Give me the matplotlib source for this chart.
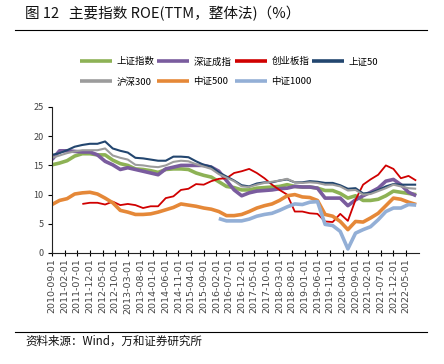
import numpy as np
import pandas as pd
import matplotlib
matplotlib.use("Agg")
import matplotlib.pyplot as plt

plt.rcParams['font.family'] = ['Noto Sans CJK SC', 'DejaVu Sans']

# quarterly points, 2010-09 .. 2022-09
dates = pd.date_range('2010-09-01', periods=49, freq='3MS')
tick_dates = pd.date_range('2010-09-01', '2022-05-01', freq='5MS')

sh_index = [15.1, 15.4, 15.8, 16.6, 17.0, 17.0, 16.8, 16.8, 15.9, 15.3, 15.0, 14.4, 14.3, 14.1, 13.8, 14.3,
            14.4, 14.4, 14.3, 13.7, 13.3, 13.0, 12.2, 11.4, 11.2, 10.8, 10.8, 11.1, 11.2, 11.3, 11.4, 11.7,
            11.4, 11.3, 11.3, 11.1, 10.7, 10.7, 10.2, 9.4, 9.8, 9.0, 9.0, 9.2, 9.8, 10.6, 10.4, 10.2, 10.0]
sz_index = [16.0, 17.5, 17.5, 17.4, 17.3, 17.3, 16.8, 15.7, 15.1, 14.3, 14.6, 14.3, 14.0, 13.7, 13.4, 14.4,
            14.7, 15.0, 15.0, 15.0, 15.0, 14.7, 14.0, 12.4, 10.8, 9.8, 10.3, 10.6, 10.7, 10.8, 11.0, 11.1,
            11.4, 11.3, 11.3, 11.1, 9.4, 9.4, 9.4, 8.1, 9.1, 9.8, 10.4, 11.1, 12.3, 12.6, 11.7, 10.4, 9.8]
cyb = [None, None, None, None, 8.4, 8.6, 8.6, 8.3, 8.8, 8.2, 8.4, 8.2, 7.7, 8.0, 8.0, 9.4,
       9.7, 10.8, 11.0, 11.8, 11.7, 12.3, 12.7, 12.8, 13.7, 14.0, 14.4, 13.7, 12.8, 11.7, 10.8, 10.0,
       7.1, 7.1, 6.8, 6.7, 5.4, 5.3, 6.7, 5.5, 9.1, 11.7, 12.6, 13.4, 15.0, 14.4, 12.8, 13.2, 12.4]
sz50 = [16.8, 17.1, 17.6, 18.2, 18.5, 18.7, 18.7, 19.1, 17.9, 17.5, 17.2, 16.3, 16.2, 16.0, 15.8, 15.8,
        16.5, 16.5, 16.4, 15.7, 15.1, 14.8, 13.8, 13.1, 12.4, 11.6, 11.4, 11.9, 12.1, 12.1, 12.4, 12.6,
        12.1, 12.1, 12.3, 12.2, 12.0, 12.0, 11.6, 11.0, 11.1, 10.2, 10.3, 10.8, 11.4, 11.8, 11.7, 11.7, 11.7]
hs300 = [16.3, 16.7, 17.1, 17.4, 17.6, 17.6, 17.6, 17.9, 16.7, 16.3, 16.0, 15.1, 15.0, 14.8, 14.7, 15.0,
         15.6, 15.8, 15.7, 15.2, 14.8, 14.4, 13.5, 12.9, 12.3, 11.4, 11.3, 11.7, 12.0, 12.2, 12.4, 12.7,
         12.1, 12.0, 12.1, 12.0, 11.7, 11.7, 11.4, 10.7, 10.8, 10.0, 10.1, 10.6, 11.1, 11.7, 11.4, 11.1, 11.0]
zz500 = [8.3, 9.0, 9.3, 10.1, 10.3, 10.4, 10.1, 9.4, 8.6, 7.3, 7.0, 6.6, 6.6, 6.7, 7.0, 7.4,
         7.8, 8.4, 8.2, 8.0, 7.7, 7.5, 7.1, 6.4, 6.4, 6.6, 7.1, 7.7, 8.1, 8.4, 9.0, 9.8,
         10.0, 9.6, 9.5, 9.0, 6.6, 6.3, 5.4, 4.0, 5.4, 5.3, 6.0, 6.8, 8.1, 9.4, 9.2, 8.7, 8.3]
zz1000 = [None] * 22 + [5.9, 5.5, 5.5, 5.5, 5.8, 6.3, 6.6, 6.8, 7.3, 7.9,
                        8.4, 8.3, 8.7, 8.8, 4.9, 4.7, 3.7, 0.7, 3.4, 4.0, 4.5, 5.7, 7.1, 7.7, 7.7, 8.3, 8.2]

series = [
    ("上证指数", sh_index, "#8DB255", 2.6),
    ("深证成指", sz_index, "#7A5C9E", 2.6),
    ("创业板指", cyb, "#D00000", 1.3),
    ("上证50", sz50, "#23466F", 1.5),
    ("沪深300", hs300, "#9C9C9C", 1.5),
    ("中证500", zz500, "#E58838", 2.6),
    ("中证1000", zz1000, "#93AFD6", 2.6),
]

fig = plt.figure(figsize=(4.44, 3.64), dpi=100)
ax = fig.add_axes([52 / 444, 1 - 253 / 364, 367 / 444, 146 / 364])

handles = {}
for name, vals, color, lw in series:
    y = np.array([np.nan if v is None else v for v in vals], dtype=float)
    h, = ax.plot(dates, y, color=color, lw=lw, label=name, solid_capstyle='butt')
    handles[name] = h

ax.set_ylim(0, 25)
ax.set_yticks(range(0, 26, 5))
ax.set_xlim(pd.Timestamp('2010-09-01'), pd.Timestamp('2022-10-05'))
ax.set_xticks(tick_dates)
ax.set_xticklabels([d.strftime('%Y-%m-%d') for d in tick_dates], rotation=90,
                   fontsize=6.8, family='DejaVu Sans', color='#444444')
ax.tick_params(axis='x', direction='inout', length=4, width=0.8, pad=2)
ax.tick_params(axis='y', direction='out', length=3, width=0.8, labelsize=6.5,
               labelcolor='#444444', pad=3)
for s in ['top', 'right']:
    ax.spines[s].set_visible(False)
for s in ['left', 'bottom']:
    ax.spines[s].set_color('#222222')
    ax.spines[s].set_linewidth(0.8)

# legend: one single-column legend per column so the columns sit at fixed x
legend_cols = [(80, ["上证指数", "沪深300"]), (157, ["深证成指", "中证500"]),
               (235, ["创业板指", "中证1000"]), (312, ["上证50"])]
for x0, names in legend_cols:
    leg = fig.legend([handles[n] for n in names], names, loc='upper left',
                     bbox_to_anchor=(x0 / 444, 1 - 57 / 364), frameon=False,
                     fontsize=6.8, handlelength=3.4, handletextpad=0.45,
                     labelspacing=1.15, borderpad=0, borderaxespad=0)
    for line in leg.get_lines():
        line.set_linewidth(2.6)

fig.text(25 / 444, 1 - 14 / 364, "图 12   主要指数 ROE(TTM，整体法)（%）", fontsize=10.5,
         va='center', ha='left', color='#111111')
fig.add_artist(plt.Line2D([15 / 444, 427 / 444], [1 - 29.5 / 364] * 2, color='black', lw=0.8))
fig.add_artist(plt.Line2D([15 / 444, 427 / 444], [1 - 332 / 364] * 2, color='black', lw=0.8))
fig.text(25 / 444, 1 - 341 / 364, "资料来源：Wind，万和证券研究所", fontsize=8.3,
         va='center', ha='left', color='#111111')

fig.savefig("out.png", dpi=100)
